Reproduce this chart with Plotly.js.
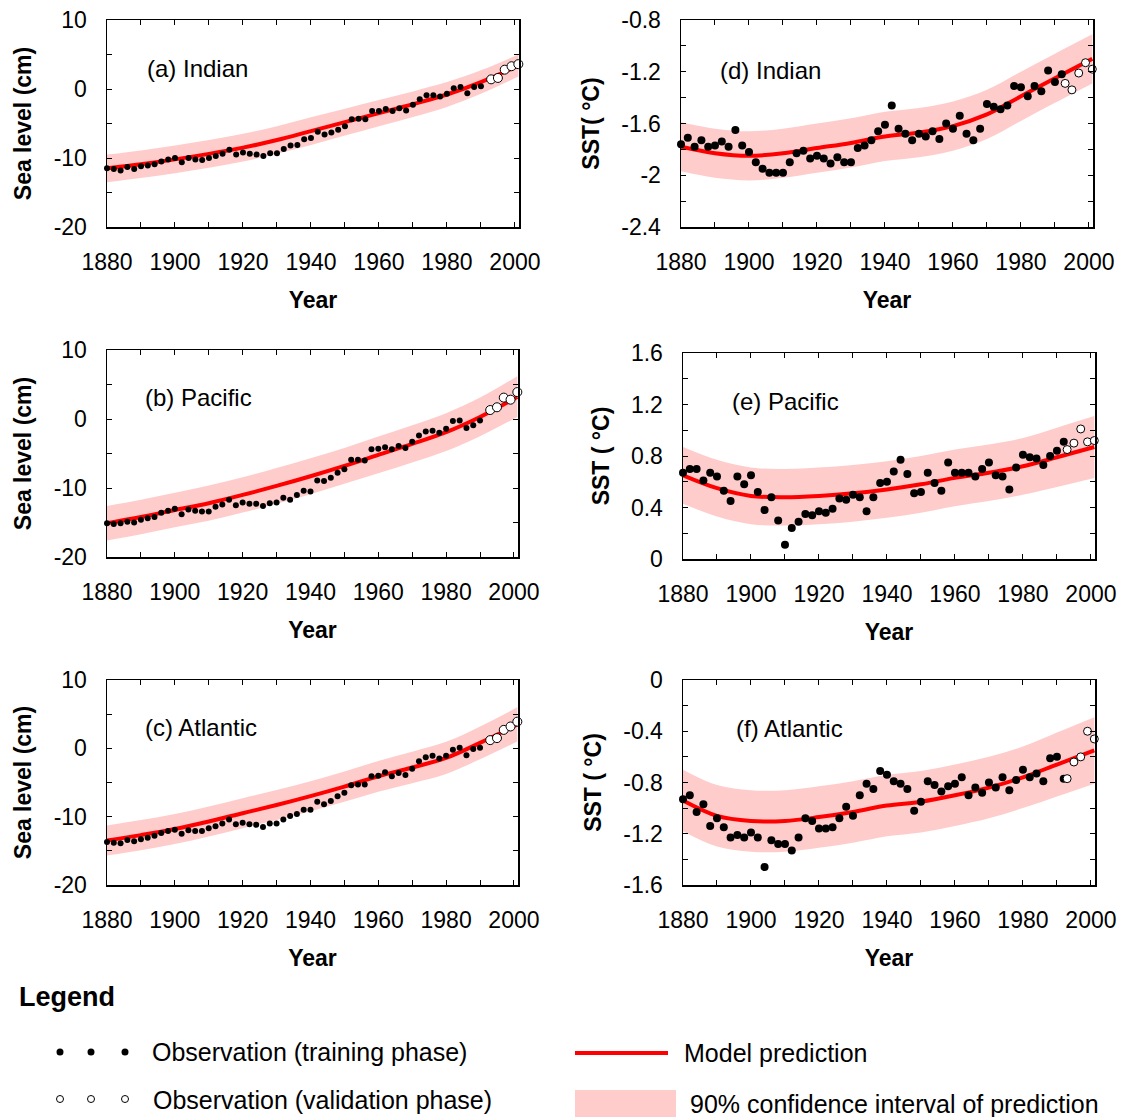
<!DOCTYPE html>
<html>
<head>
<meta charset="utf-8">
<script src="https://cdn.plot.ly/plotly-3.0.1.min.js"></script>
<style>
  html, body { margin: 0; padding: 0; background: #ffffff; }
  #chart { width: 1129px; height: 1117px; }
</style>
</head>
<body>
<div id="chart"></div>
<script>
// ---- Observation years ----
const obsYears = [1880, 1882, 1884, 1886, 1888, 1890, 1892, 1894, 1896, 1898,
                  1900, 1902, 1904, 1906, 1908, 1910, 1912, 1914, 1916, 1918,
                  1920, 1922, 1924, 1926, 1928, 1930, 1932, 1934, 1936, 1938,
                  1940, 1942, 1944, 1946, 1948, 1950, 1952, 1954, 1956, 1958,
                  1960, 1962, 1964, 1966, 1968, 1970, 1972, 1974, 1976, 1978,
                  1980, 1982, 1984, 1986, 1988, 1990, 1992];
const validationYears = [1993, 1995, 1997, 1999, 2001];
const modelYears = [1880, 1890, 1900, 1910, 1920, 1930, 1940, 1950, 1960, 1970, 1980, 1990, 2001];

// ---- (a) Indian sea level (cm) ----
const seaIndianObs = [-11.5, -11.6, -11.8, -11.3, -11.6, -11.2, -11.1, -10.9, -10.5, -10.2,
                      -10.0, -10.6, -10.0, -10.2, -10.3, -10.0, -9.7, -9.4, -8.8, -9.5,
                      -9.2, -9.4, -9.5, -9.7, -9.3, -9.3, -8.7, -8.2, -8.1, -7.3,
                      -7.1, -6.2, -6.6, -6.3, -5.9, -5.4, -4.4, -4.3, -4.4, -3.2,
                      -3.2, -2.9, -3.2, -2.8, -3.1, -2.3, -1.5, -0.9, -0.9, -1.1,
                      -0.7, 0.1, 0.3, -0.6, 0.3, 0.4];
const seaIndianVal = [1.4, 1.6, 2.8, 3.3, 3.6];
const seaIndianModel = [-11.5, -10.9, -10.2, -9.4, -8.5, -7.4, -6.1, -4.8, -3.5, -2.2, -0.8, 1.0, 3.4];
const seaIndianUpper = [-9.5, -8.9, -8.2, -7.4, -6.5, -5.4, -4.1, -2.85, -1.6, -0.35, 1.0, 2.7, 5.0];
const seaIndianLower = [-13.5, -12.9, -12.2, -11.4, -10.5, -9.4, -8.1, -6.75, -5.4, -4.05, -2.6, -0.7, 1.8];

// ---- (b) Pacific sea level (cm) ----
const seaPacificObs = [-15.1, -15.2, -15.1, -14.9, -15.0, -14.6, -14.4, -14.2, -13.6, -13.3,
                       -13.0, -13.8, -13.1, -13.3, -13.4, -13.4, -12.7, -12.4, -11.7, -12.5,
                       -12.1, -12.3, -12.3, -12.6, -12.2, -12.1, -11.4, -11.7, -11.0, -10.4,
                       -10.5, -8.9, -9.0, -8.5, -7.8, -7.3, -5.9, -5.9, -6.0, -4.4,
                       -4.3, -4.1, -4.4, -3.9, -4.2, -3.3, -2.4, -1.8, -1.7, -2.0,
                       -1.4, -0.3, -0.2, -1.3, -0.9, -0.2];
const seaPacificVal = [1.3, 1.7, 3.1, 2.8, 3.9];
const seaPacificModel = [-15.1, -14.2, -13.2, -12.2, -11.0, -9.7, -8.3, -6.8, -5.2, -3.6, -1.9, 0.3, 3.2];
const seaPacificUpper = [-12.6, -11.7, -10.7, -9.65, -8.45, -7.1, -5.7, -4.2, -2.55, -0.9, 0.85, 3.1, 6.2];
const seaPacificLower = [-17.6, -16.7, -15.7, -14.75, -13.55, -12.3, -10.9, -9.4, -7.85, -6.3, -4.65, -2.5, 0.3];

// ---- (c) Atlantic sea level (cm) ----
const seaAtlanticObs = [-13.7, -13.8, -13.9, -13.4, -13.6, -13.3, -13.1, -12.8, -12.4, -12.1,
                        -11.9, -12.5, -12.0, -12.1, -12.1, -11.7, -11.4, -11.0, -10.4, -11.1,
                        -10.9, -11.1, -11.2, -11.5, -11.0, -11.0, -10.4, -9.9, -9.6, -9.0,
                        -9.0, -7.8, -8.2, -7.7, -7.0, -6.5, -5.4, -5.3, -5.3, -4.1,
                        -4.0, -3.5, -4.1, -3.6, -3.9, -3.0, -1.9, -1.3, -1.1, -1.5,
                        -1.1, -0.2, 0.1, -1.0, -0.1, 0.1];
const seaAtlanticVal = [1.2, 1.5, 2.7, 3.2, 3.9];
const seaAtlanticModel = [-13.5, -12.7, -11.8, -10.7, -9.5, -8.3, -7.0, -5.6, -4.1, -2.8, -1.4, 0.8, 3.5];
const seaAtlanticUpper = [-11.3, -10.5, -9.6, -8.5, -7.3, -6.1, -4.8, -3.4, -1.85, -0.5, 0.95, 3.2, 6.0];
const seaAtlanticLower = [-15.7, -14.9, -14.0, -12.9, -11.7, -10.5, -9.2, -7.8, -6.35, -5.1, -3.75, -1.6, 1.0];

// ---- (d) Indian SST (°C) ----
const sstIndianObs = [-1.76, -1.71, -1.78, -1.73, -1.78, -1.77, -1.74, -1.78, -1.65, -1.77,
                      -1.82, -1.90, -1.95, -1.98, -1.98, -1.98, -1.90, -1.83, -1.81, -1.87,
                      -1.85, -1.87, -1.91, -1.86, -1.90, -1.90, -1.79, -1.77, -1.73, -1.66,
                      -1.61, -1.46, -1.64, -1.68, -1.73, -1.68, -1.70, -1.66, -1.72, -1.60,
                      -1.64, -1.54, -1.68, -1.73, -1.64, -1.45, -1.47, -1.49, -1.46, -1.31,
                      -1.32, -1.39, -1.31, -1.35, -1.19, -1.28, -1.22];
const sstIndianVal = [-1.29, -1.34, -1.21, -1.13, -1.18];
const sstIndianModel = [-1.78, -1.83, -1.85, -1.83, -1.79, -1.75, -1.70, -1.67, -1.62, -1.53, -1.39, -1.25, -1.10];
const sstIndianUpper = [-1.59, -1.64, -1.66, -1.64, -1.60, -1.56, -1.51, -1.48, -1.43, -1.34, -1.20, -1.06, -0.91];
const sstIndianLower = [-1.97, -2.02, -2.04, -2.02, -1.98, -1.94, -1.89, -1.86, -1.81, -1.72, -1.58, -1.44, -1.29];

// ---- (e) Pacific SST (°C) ----
const sstPacificObs = [0.67, 0.70, 0.70, 0.61, 0.67, 0.64, 0.53, 0.45, 0.64, 0.58,
                       0.65, 0.52, 0.38, 0.48, 0.30, 0.11, 0.24, 0.29, 0.35, 0.34,
                       0.37, 0.36, 0.39, 0.47, 0.46, 0.50, 0.48, 0.37, 0.48, 0.59,
                       0.60, 0.68, 0.77, 0.66, 0.51, 0.52, 0.67, 0.59, 0.53, 0.75,
                       0.67, 0.67, 0.67, 0.64, 0.70, 0.75, 0.65, 0.64, 0.54, 0.71,
                       0.81, 0.79, 0.78, 0.73, 0.80, 0.84, 0.91];
const sstPacificVal = [0.85, 0.90, 1.01, 0.91, 0.92];
const sstPacificModel = [0.65, 0.55, 0.49, 0.48, 0.49, 0.51, 0.54, 0.58, 0.63, 0.67, 0.72, 0.79, 0.87];
const sstPacificUpper = [0.87, 0.77, 0.71, 0.70, 0.71, 0.73, 0.76, 0.80, 0.85, 0.89, 0.94, 1.02, 1.11];
const sstPacificLower = [0.43, 0.33, 0.27, 0.26, 0.27, 0.29, 0.32, 0.36, 0.41, 0.45, 0.50, 0.56, 0.63];

// ---- (f) Atlantic SST (°C) ----
const sstAtlanticObs = [-0.93, -0.90, -1.03, -0.97, -1.14, -1.08, -1.15, -1.23, -1.21, -1.23,
                        -1.19, -1.23, -1.46, -1.25, -1.28, -1.28, -1.33, -1.23, -1.08, -1.10,
                        -1.16, -1.16, -1.15, -1.08, -0.99, -1.06, -0.90, -0.81, -0.85, -0.71,
                        -0.74, -0.79, -0.81, -0.85, -1.02, -0.95, -0.79, -0.82, -0.87, -0.83,
                        -0.81, -0.76, -0.90, -0.84, -0.88, -0.80, -0.84, -0.76, -0.86, -0.78,
                        -0.70, -0.76, -0.73, -0.79, -0.61, -0.60, -0.77];
const sstAtlanticVal = [-0.77, -0.64, -0.60, -0.40, -0.46];
const sstAtlanticModel = [-0.94, -1.06, -1.10, -1.10, -1.07, -1.03, -0.98, -0.95, -0.90, -0.84, -0.76, -0.66, -0.55];
const sstAtlanticUpper = [-0.70, -0.82, -0.86, -0.86, -0.83, -0.79, -0.74, -0.71, -0.66, -0.60, -0.52, -0.41, -0.29];
const sstAtlanticLower = [-1.18, -1.30, -1.34, -1.34, -1.31, -1.27, -1.22, -1.19, -1.14, -1.08, -1.00, -0.91, -0.81];

// ---- Tick labels ----
const seaTickVals = [-20, -10, 0, 10];
const seaTickText = ['-20', '-10', '0', '10'];
const seaMinorVals = [-15, -5, 5];
const sstIndianTickVals = [-2.4, -2.0, -1.6, -1.2, -0.8];
const sstIndianTickText = ['-2.4', '-2', '-1.6', '-1.2', '-0.8'];
const sstIndianMinorVals = [-2.2, -1.8, -1.4, -1.0];
const sstPacificTickVals = [0, 0.4, 0.8, 1.2, 1.6];
const sstPacificTickText = ['0', '0.4', '0.8', '1.2', '1.6'];
const sstPacificMinorVals = [0.2, 0.6, 1.0, 1.4];
const sstAtlanticTickVals = [-1.6, -1.2, -0.8, -0.4, 0];
const sstAtlanticTickText = ['-1.6', '-1.2', '-0.8', '-0.4', '0'];
const sstAtlanticMinorVals = [-1.4, -1.0, -0.6, -0.2];

// ---- Styling ----
const FONT = 'Liberation Sans, Arial, Helvetica, sans-serif';
const RED = '#ff0000';
const PINK = 'rgb(255,204,204)';
const W = 1129, H = 1117;

const panels = [
  { label: '(a) Indian', obs: seaIndianObs, val: seaIndianVal, model: seaIndianModel,
    upper: seaIndianUpper, lower: seaIndianLower, range: [-20, 10],
    tickvals: seaTickVals, ticktext: seaTickText, minor: seaMinorVals,
    ytitle: 'Sea level (cm)', box: [107, 519, 20, 227], lab: [145, 68], dot: 6, ring: 9 },
  { label: '(b) Pacific', obs: seaPacificObs, val: seaPacificVal, model: seaPacificModel,
    upper: seaPacificUpper, lower: seaPacificLower, range: [-20, 10],
    tickvals: seaTickVals, ticktext: seaTickText, minor: seaMinorVals,
    ytitle: 'Sea level (cm)', box: [107, 518, 350, 557], lab: [143, 397], dot: 6, ring: 9 },
  { label: '(c) Atlantic', obs: seaAtlanticObs, val: seaAtlanticVal, model: seaAtlanticModel,
    upper: seaAtlanticUpper, lower: seaAtlanticLower, range: [-20, 10],
    tickvals: seaTickVals, ticktext: seaTickText, minor: seaMinorVals,
    ytitle: 'Sea level (cm)', box: [107, 518, 680, 885], lab: [143, 727], dot: 6, ring: 9 },
  { label: '(d) Indian', obs: sstIndianObs, val: sstIndianVal, model: sstIndianModel,
    upper: sstIndianUpper, lower: sstIndianLower, range: [-2.4, -0.8],
    tickvals: sstIndianTickVals, ticktext: sstIndianTickText, minor: sstIndianMinorVals,
    ytitle: 'SST( °C)', box: [681, 1093, 20, 227], lab: [718, 70], dot: 8, ring: 8 },
  { label: '(e) Pacific', obs: sstPacificObs, val: sstPacificVal, model: sstPacificModel,
    upper: sstPacificUpper, lower: sstPacificLower, range: [0, 1.6],
    tickvals: sstPacificTickVals, ticktext: sstPacificTickText, minor: sstPacificMinorVals,
    ytitle: 'SST ( °C)', box: [683, 1095, 353, 559], lab: [730, 402], dot: 8, ring: 8 },
  { label: '(f) Atlantic', obs: sstAtlanticObs, val: sstAtlanticVal, model: sstAtlanticModel,
    upper: sstAtlanticUpper, lower: sstAtlanticLower, range: [-1.6, 0],
    tickvals: sstAtlanticTickVals, ticktext: sstAtlanticTickText, minor: sstAtlanticMinorVals,
    ytitle: 'SST ( °C)', box: [683, 1095, 680, 885], lab: [734, 728], dot: 8, ring: 8 }
];

const traces = [];
const layout = {
  width: W, height: H,
  margin: { l: 0, r: 0, t: 0, b: 0 },
  paper_bgcolor: '#ffffff', plot_bgcolor: '#ffffff',
  font: { family: FONT, color: '#000000', size: 23 },
  showlegend: false,
  annotations: [], shapes: []
};

panels.forEach((p, i) => {
  const n = i + 1;
  const xa = 'x' + n, ya = 'y' + n;
  // confidence band
  traces.push({ x: modelYears, y: p.lower, xaxis: xa, yaxis: ya, type: 'scatter', mode: 'lines',
    line: { width: 0, shape: 'spline', color: PINK }, hoverinfo: 'skip' });
  traces.push({ x: modelYears, y: p.upper, xaxis: xa, yaxis: ya, type: 'scatter', mode: 'lines',
    line: { width: 0, shape: 'spline', color: PINK }, fill: 'tonexty', fillcolor: PINK, hoverinfo: 'skip' });
  // model prediction
  traces.push({ x: modelYears, y: p.model, xaxis: xa, yaxis: ya, type: 'scatter', mode: 'lines',
    line: { width: 4, shape: 'spline', color: RED } });
  // training observations
  traces.push({ x: obsYears.slice(0, p.obs.length), y: p.obs, xaxis: xa, yaxis: ya, type: 'scatter', mode: 'markers',
    marker: { size: p.dot, color: '#000000' }, cliponaxis: false });
  // validation observations
  traces.push({ x: validationYears, y: p.val, xaxis: xa, yaxis: ya, type: 'scatter', mode: 'markers',
    marker: { size: p.ring, color: '#ffffff', line: { color: '#000000', width: 1 } }, cliponaxis: false });

  const [x0, x1, y0, y1] = p.box;
  layout['xaxis' + n] = {
    domain: [x0 / W, x1 / W], anchor: ya, range: [1880, 2001.2],
    tick0: 1880, dtick: 20, ticks: 'inside', ticklen: 5, tickwidth: 1, tickcolor: '#000',
    minor: { tick0: 1880, dtick: 10, ticks: 'inside', ticklen: 5, tickwidth: 1, tickcolor: '#000' },
    showline: true, mirror: 'ticks', linecolor: '#000', linewidth: 1.5,
    showgrid: false, zeroline: false, fixedrange: true,
    tickfont: { size: 23, family: FONT }, ticklabelstandoff: 14,
    title: { text: 'Year', font: { size: 23, family: FONT, weight: 'bold' }, standoff: 18 }
  };
  layout['yaxis' + n] = {
    domain: [1 - y1 / H, 1 - y0 / H], anchor: xa, range: p.range,
    tickmode: 'array', tickvals: p.tickvals, ticktext: p.ticktext,
    ticks: 'inside', ticklen: 5, tickwidth: 1, tickcolor: '#000',
    minor: { tickmode: 'array', tickvals: p.minor, ticks: 'inside', ticklen: 5, tickwidth: 1, tickcolor: '#000' },
    showline: true, mirror: 'ticks', linecolor: '#000', linewidth: 1.5,
    showgrid: false, zeroline: false, fixedrange: true,
    tickfont: { size: 23, family: FONT }, ticklabelstandoff: 14,
    title: { text: p.ytitle, font: { size: 23, family: FONT, weight: 'bold' }, standoff: 15 }
  };
  layout.annotations.push({
    text: p.label, xref: 'paper', yref: 'paper', x: p.lab[0] / W, y: 1 - p.lab[1] / H,
    xanchor: 'left', yanchor: 'middle', showarrow: false, font: { size: 24, family: FONT }
  });
});

// ---- Legend block ----
const px = v => v / W, py = v => 1 - v / H;
function legendText(text, x, y, size, bold) {
  layout.annotations.push({ text: text, xref: 'paper', yref: 'paper', x: px(x), y: py(y),
    xanchor: 'left', yanchor: 'middle', showarrow: false,
    font: { size: size, family: FONT, weight: bold ? 'bold' : 'normal' } });
}
legendText('Legend', 17, 997, 27, true);
legendText('Observation (training phase)', 150, 1052, 25, false);
legendText('Observation (validation phase)', 151, 1100, 25, false);
legendText('Model prediction', 682, 1053, 25, false);
legendText('90% confidence interval of prediction', 688, 1104, 25, false);

[60, 91, 125].forEach(cx => {
  layout.shapes.push({ type: 'circle', xref: 'paper', yref: 'paper', xsizemode: 'pixel', ysizemode: 'pixel',
    xanchor: px(cx), yanchor: py(1052), x0: -3.5, x1: 3.5, y0: -3.5, y1: 3.5,
    fillcolor: '#000000', line: { width: 0 } });
  layout.shapes.push({ type: 'circle', xref: 'paper', yref: 'paper', xsizemode: 'pixel', ysizemode: 'pixel',
    xanchor: px(cx), yanchor: py(1099), x0: -3.5, x1: 3.5, y0: -3.5, y1: 3.5,
    fillcolor: '#ffffff', line: { width: 1, color: '#000000' } });
});
layout.shapes.push({ type: 'line', xref: 'paper', yref: 'paper', x0: px(575), x1: px(668), y0: py(1053), y1: py(1053),
  line: { color: RED, width: 4 } });
layout.shapes.push({ type: 'rect', xref: 'paper', yref: 'paper', x0: px(575), x1: px(676), y0: py(1090), y1: py(1117),
  fillcolor: PINK, line: { width: 0 } });

Plotly.newPlot('chart', traces, layout, { staticPlot: true, displayModeBar: false });
</script>
</body>
</html>
